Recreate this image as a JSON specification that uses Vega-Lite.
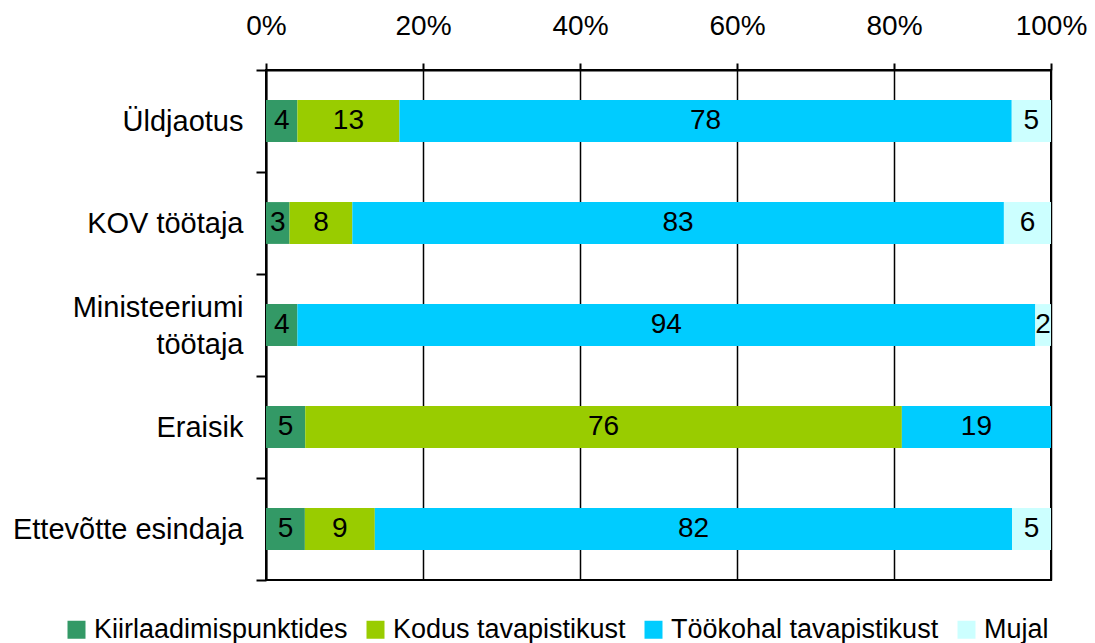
{
  "$schema": "https://vega.github.io/schema/vega-lite/v6.json",
  "width": 785,
  "height": 510,
  "autosize": {"type": "none"},
  "padding": {"left": 266, "top": 70, "right": 44, "bottom": 63},
  "background": "white",
  "config": {
    "font": "Liberation Sans",
    "view": {"stroke": "black", "strokeWidth": 2}
  },
  "data": {
    "values": [
      {"g": "Üldjaotus", "k": "Kiirlaadimispunktides", "v": 4, "o": 1},
      {"g": "Üldjaotus", "k": "Kodus tavapistikust", "v": 13, "o": 2},
      {"g": "Üldjaotus", "k": "Töökohal tavapistikust", "v": 78, "o": 3},
      {"g": "Üldjaotus", "k": "Mujal", "v": 5, "o": 4},
      {"g": "KOV töötaja", "k": "Kiirlaadimispunktides", "v": 3, "o": 1},
      {"g": "KOV töötaja", "k": "Kodus tavapistikust", "v": 8, "o": 2},
      {"g": "KOV töötaja", "k": "Töökohal tavapistikust", "v": 83, "o": 3},
      {"g": "KOV töötaja", "k": "Mujal", "v": 6, "o": 4},
      {"g": "Ministeeriumi töötaja", "k": "Kiirlaadimispunktides", "v": 4, "o": 1},
      {"g": "Ministeeriumi töötaja", "k": "Töökohal tavapistikust", "v": 94, "o": 3},
      {"g": "Ministeeriumi töötaja", "k": "Mujal", "v": 2, "o": 4},
      {"g": "Eraisik", "k": "Kiirlaadimispunktides", "v": 5, "o": 1},
      {"g": "Eraisik", "k": "Kodus tavapistikust", "v": 76, "o": 2},
      {"g": "Eraisik", "k": "Töökohal tavapistikust", "v": 19, "o": 3},
      {"g": "Ettevõtte esindaja", "k": "Kiirlaadimispunktides", "v": 5, "o": 1},
      {"g": "Ettevõtte esindaja", "k": "Kodus tavapistikust", "v": 9, "o": 2},
      {"g": "Ettevõtte esindaja", "k": "Töökohal tavapistikust", "v": 82, "o": 3},
      {"g": "Ettevõtte esindaja", "k": "Mujal", "v": 5, "o": 4}
    ]
  },
  "encoding": {
    "y": {
      "field": "g",
      "type": "nominal",
      "sort": ["Üldjaotus", "KOV töötaja", "Ministeeriumi töötaja", "Eraisik", "Ettevõtte esindaja"],
      "scale": {"paddingInner": 0, "paddingOuter": 0},
      "axis": {
        "title": null,
        "domainColor": "black",
        "domainWidth": 2,
        "tickColor": "black",
        "tickWidth": 2,
        "tickSize": 10,
        "tickBand": "extent",
        "labelFontSize": 29,
        "labelColor": "black",
        "labelPadding": 13,
        "labelLimit": 400,
        "labelLineHeight": 37,
        "labelOffset": {"condition": {"test": "datum.value == 'Ministeeriumi töötaja'", "value": -18}, "value": 0},
        "labelExpr": "datum.value == 'Ministeeriumi töötaja' ? ['Ministeeriumi', 'töötaja'] : datum.value"
      }
    },
    "x": {
      "field": "v",
      "type": "quantitative",
      "stack": "normalize",
      "scale": {"domain": [0, 1], "nice": false},
      "axis": {
        "orient": "top",
        "title": null,
        "values": [0, 0.2, 0.4, 0.6, 0.8, 1],
        "format": ".0%",
        "grid": true,
        "gridColor": "black",
        "gridWidth": 1.5,
        "gridOpacity": 1,
        "domainColor": "black",
        "domainWidth": 2,
        "tickColor": "black",
        "tickWidth": 2,
        "tickSize": 7,
        "labelFontSize": 28,
        "labelColor": "black",
        "labelPadding": 23,
        "labelFlush": false
      }
    },
    "order": {"field": "o", "type": "quantitative"}
  },
  "layer": [
    {
      "mark": {"type": "bar", "height": {"band": 0.41}},
      "encoding": {
        "color": {
          "field": "k",
          "type": "nominal",
          "scale": {
            "domain": ["Kiirlaadimispunktides", "Kodus tavapistikust", "Töökohal tavapistikust", "Mujal"],
            "range": ["#339966", "#99CC00", "#00CCFF", "#CCFFFF"]
          },
          "legend": {
            "title": null,
            "orient": "none",
            "direction": "horizontal",
            "legendX": -203,
            "legendY": 546,
            "padding": 0,
            "symbolType": "square",
            "symbolSize": 324,
            "symbolStrokeWidth": 0,
            "symbolOpacity": 1,
            "labelFontSize": 27,
            "labelLimit": 500,
            "labelColor": "black",
            "labelOffset": 4,
            "columnPadding": 14
          }
        }
      }
    },
    {
      "mark": {"type": "text", "fontSize": 28, "color": "black", "baseline": "middle", "align": "center"},
      "encoding": {
        "x": {"field": "v", "type": "quantitative", "stack": "normalize", "bandPosition": 0.5},
        "text": {"field": "v", "type": "quantitative"}
      }
    }
  ]
}
